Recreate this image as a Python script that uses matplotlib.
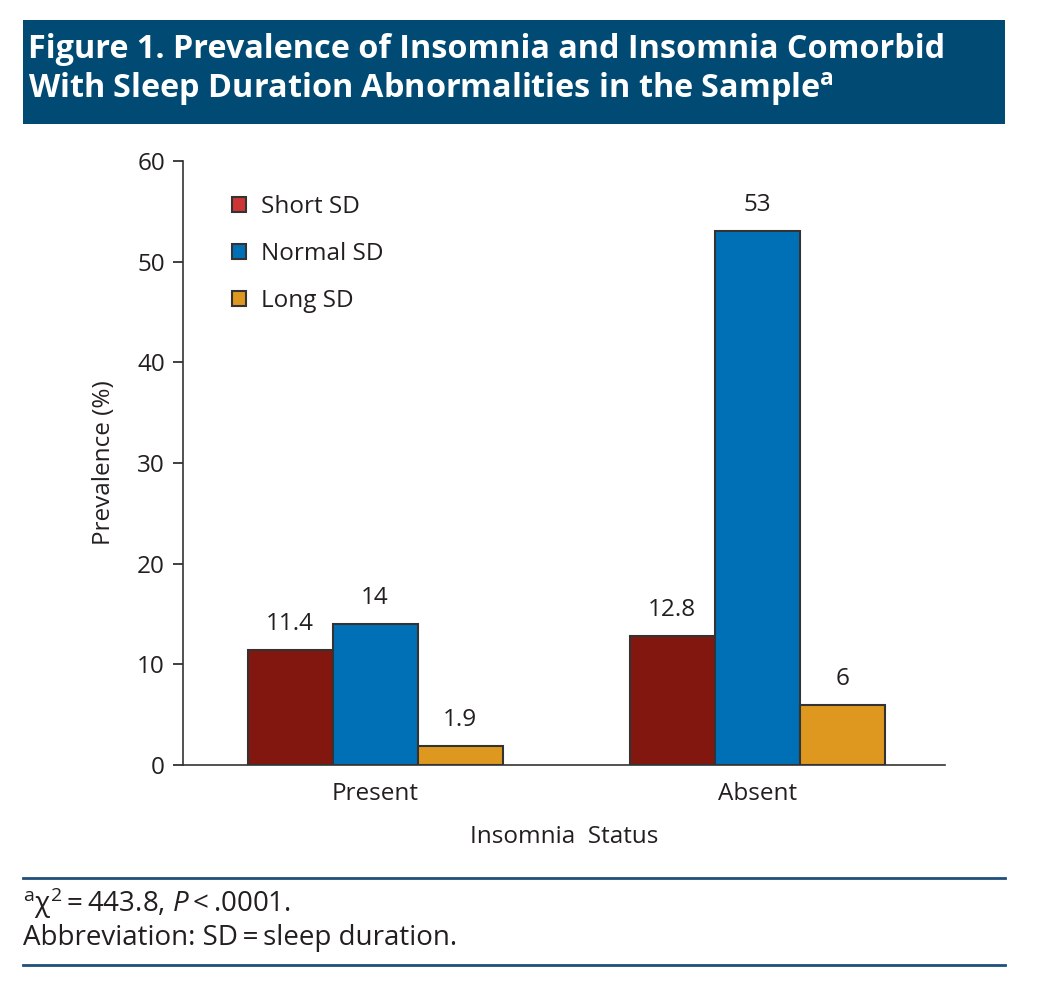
import matplotlib
matplotlib.use("Agg")
import matplotlib.pyplot as plt
import numpy as np
from matplotlib.patches import Rectangle, Patch
from matplotlib.lines import Line2D

groups = ["Present", "Absent"]
series = ["Short SD", "Normal SD", "Long SD"]
short_sd = [11.4, 12.8]
normal_sd = [14, 53]
long_sd = [1.9, 6]
value_labels = [["11.4", "12.8"], ["14", "53"], ["1.9", "6"]]

bar_colors = ["#82170f", "#0070b6", "#de981f"]
legend_colors = ["#cf3434", "#0070b6", "#de981f"]

plt.rcParams["font.family"] = ["Open Sans", "DejaVu Sans"]
plt.rcParams["mathtext.fontset"] = "custom"
plt.rcParams["mathtext.rm"] = "Open Sans"
plt.rcParams["mathtext.it"] = "Open Sans:italic"
plt.rcParams["mathtext.bf"] = "Open Sans:bold"

fig = plt.figure(figsize=(10.37, 10.07), dpi=100)

# title banner
fig.patches.append(Rectangle((23 / 1037, 1 - 124 / 1007), 982 / 1037, 104 / 1007,
                             transform=fig.transFigure, facecolor="#004a74",
                             edgecolor="none", zorder=0))
fig.text(28 / 1037, 1 - 50 / 1007, "Figure 1. Prevalence of Insomnia and Insomnia Comorbid",
         color="white", fontsize=23.3, fontweight="bold", va="center", ha="left")
fig.text(28 / 1037, 1 - 89 / 1007, r"With Sleep Duration Abnormalities in the Sample$^{\mathbf{a}}$",
         color="white", fontsize=23.3, fontweight="bold", va="center", ha="left")

ax = fig.add_axes([183 / 1037, 242 / 1007, 762 / 1037, 604 / 1007])
x = np.arange(len(groups))
width = 0.2225
data = [short_sd, normal_sd, long_sd]
for i, vals in enumerate(data):
    pos = x + (i - 1) * width
    ax.bar(pos, vals, width, color=bar_colors[i], edgecolor="#333333", linewidth=1.5, zorder=2)
    for p, v, lab in zip(pos, vals, value_labels[i]):
        ax.text(p, v + 1.4, lab, ha="center", va="bottom", fontsize=17.5, color="#231f20")

ax.set_xlim(-0.503, 1.492)
ax.set_ylim(0, 60)
ax.set_yticks(range(0, 61, 10))
ax.set_xticks(x)
ax.set_xticklabels(groups)
ax.tick_params(axis="x", length=0, labelsize=17.5, pad=12, colors="#231f20")
ax.tick_params(axis="y", length=7, width=1.2, labelsize=17.5, pad=6, colors="#231f20")
for s in ["top", "right"]:
    ax.spines[s].set_visible(False)
for s in ["left", "bottom"]:
    ax.spines[s].set_color("#333333")
    ax.spines[s].set_linewidth(1.2)
ax.set_ylabel("Prevalence (%)", fontsize=17.5, color="#231f20", labelpad=15)
ax.set_xlabel("Insomnia  Status", fontsize=17.5, color="#231f20", labelpad=14)

handles = [Patch(facecolor=c, edgecolor="#333333", linewidth=1.5) for c in legend_colors]
ax.legend(handles, series, loc="upper left", bbox_to_anchor=(0.035, 0.98), frameon=False,
          fontsize=17.5, handlelength=0.6, handleheight=0.6, handletextpad=0.6,
          labelspacing=0.95, labelcolor="#231f20")

# footnote rules and text
for yy in [878, 965]:
    fig.add_artist(Line2D([23 / 1037, 1005 / 1037], [1 - yy / 1007, 1 - yy / 1007],
                          transform=fig.transFigure, color="#1f4f7a", linewidth=2))
fig.text(23 / 1037, 1 - 903 / 1007, "$^{\\mathrm{a}}$χ$^{2}$\u2009=\u2009443.8, $\\it{P}$\u2009<\u2009.0001.",
         fontsize=20, color="#231f20", va="center", ha="left")
fig.text(23 / 1037, 1 - 938 / 1007, "Abbreviation: SD\u2009=\u2009sleep duration.",
         fontsize=20, color="#231f20", va="center", ha="left")

fig.savefig("out.png", dpi=100)
